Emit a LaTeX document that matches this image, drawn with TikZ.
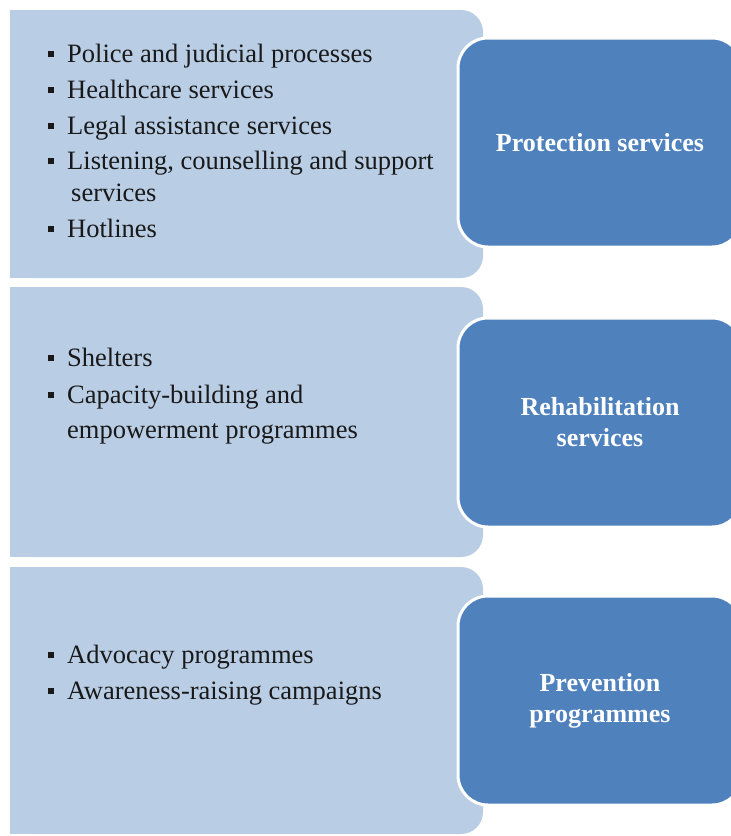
\documentclass[tikz,border=0pt]{standalone}
\usepackage{fontspec}
\setmainfont{Liberation Serif}
\definecolor{panelblue}{HTML}{B9CDE5}
\definecolor{boxblue}{HTML}{4F81BD}
\newcommand{\itemfont}{\fontsize{26.5}{31}\selectfont}
\newcommand{\titlefont}{\fontsize{26}{32}\selectfont\bfseries}
\newcommand{\bul}{\makebox[19pt][l]{\rule[5.5pt]{5.5pt}{5.5pt}}}
\begin{document}
\begin{tikzpicture}[x=1pt,y=1pt,
  panel/.style={fill=panelblue, draw=none, rounded corners=22pt, inner sep=0, minimum width=473pt},
  titlebox/.style={fill=boxblue, draw=white, line width=3pt, rounded corners=30pt, inner sep=0,
     minimum width=284pt, minimum height=209pt, text=white, font=\titlefont, align=center},
  itemtext/.style={anchor=base west, inner sep=0, font=\itemfont, text=black!90}]
\useasboundingbox (0,0) rectangle (731,-836);
\clip (0,0) rectangle (731,-836);
\fill[white] (0,0) rectangle (731,-836);
% panels
\node[panel, minimum height=268pt] (p1) at (246.5,-144) {};
\fill[panelblue] (p1.north west) rectangle ([xshift=-40pt]p1.south east);
\node[panel, minimum height=270pt] (p2) at (246.5,-422) {};
\fill[panelblue] (p2.north west) rectangle ([xshift=-40pt]p2.south east);
\node[panel, minimum height=267pt] (p3) at (246.5,-700.5) {};
\fill[panelblue] (p3.north west) rectangle ([xshift=-40pt]p3.south east);
% title boxes
\node[titlebox] (b1) at (600,-142.5) {Protection services};
\node[titlebox] (b2) at (600,-422.5) {Rehabilitation\\[-1pt]services};
\node[titlebox] (b3) at (600,-700.5) {Prevention\\[-1pt]programmes};
% panel 1 items
\node[itemtext] (i11) at (48,-62) {\bul Police and judicial processes};
\node[itemtext] (i12) at (48,-98) {\bul Healthcare services};
\node[itemtext] (i13) at (48,-134) {\bul Legal assistance services};
\node[itemtext] (i14) at (48,-169) {\bul Listening, counselling and support};
\node[itemtext] (i14b) at (71,-201) {services};
\node[itemtext] (i15) at (48,-237) {\bul Hotlines};
% panel 2 items
\node[itemtext] (i21) at (48,-366) {\bul Shelters};
\node[itemtext] (i22) at (48,-403) {\bul Capacity-building and};
\node[itemtext] (i22b) at (67,-438) {empowerment programmes};
% panel 3 items
\node[itemtext] (i31) at (48,-663) {\bul Advocacy programmes};
\node[itemtext] (i32) at (48,-699) {\bul Awareness-raising campaigns};
\end{tikzpicture}
\end{document}
